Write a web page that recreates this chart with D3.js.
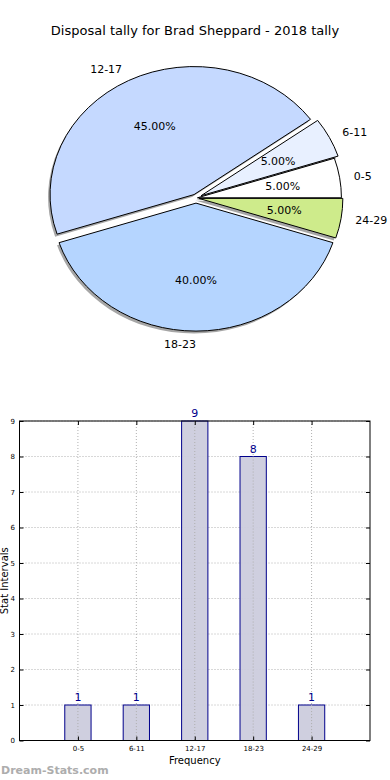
<!DOCTYPE html>
<html><head><meta charset="utf-8">
<script src="https://cdn.jsdelivr.net/npm/d3@7"></script>
<style>body{margin:0;background:#fff}svg{display:block;font-family:"DejaVu Sans",sans-serif}</style>
</head><body>
<script>
const title = "Disposal tally for Brad Sheppard - 2018 tally";
const categories = ["0-5","6-11","12-17","18-23","24-29"];
const counts = [1,1,9,8,1];
const pieColors = ["#ffffff","#e8f0ff","#c5d9ff","#b5d5ff","#ceeb8b"];
const explode = [0.01,0.04,0.03,0.04,0.02];
const yTicks = [0,1,2,3,4,5,6,7,8,9];

const W=390,H=780;
const svg=d3.select("body").append("svg").attr("width",W).attr("height",H);
svg.append("rect").attr("width",W).attr("height",H).attr("fill","#fff");

svg.append("text").attr("x",195).attr("y",35).attr("text-anchor","middle")
  .attr("font-size",13).attr("fill","#000").text(title);

// ---- Pie (matplotlib style: start at 3 o'clock, counter-clockwise) ----
const cx=196, cy=198, rx=144, ry=128;
const total=d3.sum(counts);
const pie=d3.pie().sort(null).value(d=>d)
  .startAngle(Math.PI/2).endAngle(Math.PI/2-2*Math.PI);
const arcs=pie(counts);
const arcGen=d3.arc().innerRadius(0).outerRadius(1);
function midMath(a){
  const m=(a.startAngle+a.endAngle)/2;
  return Math.PI/2-m;
}
const pg=svg.append("g");
arcs.forEach((a,i)=>{
  const t=midMath(a), e=explode[i];
  const ox=cx+e*rx*Math.cos(t)-2, oy=cy-e*ry*Math.sin(t)+2.5;
  pg.append("path").attr("d",arcGen({startAngle:Math.min(a.startAngle,a.endAngle),endAngle:Math.max(a.startAngle,a.endAngle)}))
    .attr("transform",`translate(${ox},${oy}) scale(${rx},${ry})`)
    .attr("fill","#000").attr("opacity",0.35);
});
arcs.forEach((a,i)=>{
  const t=midMath(a), e=explode[i];
  const ox=cx+e*rx*Math.cos(t), oy=cy-e*ry*Math.sin(t);
  pg.append("path").attr("d",arcGen({startAngle:Math.min(a.startAngle,a.endAngle),endAngle:Math.max(a.startAngle,a.endAngle)}))
    .attr("transform",`translate(${ox},${oy}) scale(${rx},${ry})`)
    .attr("fill",pieColors[i]).attr("stroke","#000").attr("stroke-width",1)
    .attr("vector-effect","non-scaling-stroke");
  const c=Math.cos(t), s=Math.sin(t);
  const lx=ox+1.1*rx*c, ly=oy-1.1*ry*s;
  pg.append("text").attr("x",lx).attr("y",ly).attr("dy","0.35em")
    .attr("text-anchor",c<0?"end":"start").attr("font-size",11).attr("fill","#000")
    .text(categories[i]);
  const px=ox+0.6*rx*c, py=oy-0.6*ry*s;
  pg.append("text").attr("x",px).attr("y",py).attr("dy","0.35em")
    .attr("text-anchor","middle").attr("font-size",11).attr("fill","#000")
    .text((counts[i]/total*100).toFixed(2)+"%");
});

// ---- Bar chart ----
const L=19.5,R=370,T=421,B=740.5;
const x=d3.scaleLinear().domain([-1,5]).range([L,R]);
const y=d3.scaleLinear().domain([0,9]).range([B,T]);
const bg=svg.append("g");
const gridC="#b0b0b0";
yTicks.forEach(v=>{
  bg.append("line").attr("x1",L).attr("x2",R).attr("y1",y(v)).attr("y2",y(v))
   .attr("stroke",gridC).attr("stroke-width",1).attr("stroke-dasharray","1,2");
});
categories.forEach((c,i)=>{
  bg.append("line").attr("x1",x(i)).attr("x2",x(i)).attr("y1",T).attr("y2",B)
   .attr("stroke",gridC).attr("stroke-width",1).attr("stroke-dasharray","1,2");
});
const bw=0.45;
categories.forEach((c,i)=>{
  bg.append("rect").attr("x",x(i-bw/2)).attr("width",x(i+bw/2)-x(i-bw/2))
    .attr("y",y(counts[i])).attr("height",y(0)-y(counts[i]))
    .attr("fill","#ccccdd").attr("fill-opacity",0.95).attr("stroke","#00008b").attr("stroke-width",1);
  bg.append("text").attr("x",x(i)).attr("y",y(counts[i])-4).attr("text-anchor","middle")
    .attr("font-size",11).attr("fill","#00008b").text(counts[i]);
});
categories.forEach((c,i)=>{
  bg.append("line").attr("x1",x(i)).attr("x2",x(i)).attr("y1",y(counts[i])).attr("y2",B)
   .attr("stroke",gridC).attr("stroke-width",1).attr("stroke-dasharray","1,2");
});
bg.append("rect").attr("x",L).attr("y",T).attr("width",R-L).attr("height",B-T)
  .attr("fill","none").attr("stroke","#000").attr("stroke-width",1);
const yAxis=d3.axisLeft(y).tickValues(yTicks).tickSize(-4).tickPadding(4.5);
const ya=bg.append("g").attr("transform",`translate(${L},0)`).call(yAxis);
ya.select(".domain").remove();
ya.selectAll("text").attr("font-size",7).attr("fill","#000").attr("font-family","DejaVu Sans");
const yAxisR=d3.axisRight(y).tickValues(yTicks).tickSize(-4).tickFormat("");
const yr=bg.append("g").attr("transform",`translate(${R},0)`).call(yAxisR);
yr.select(".domain").remove();
const xAxis=d3.axisBottom(x).tickValues(d3.range(categories.length)).tickFormat(i=>categories[i]).tickSize(-4).tickPadding(6);
const xa=bg.append("g").attr("transform",`translate(0,${B})`).call(xAxis);
xa.select(".domain").remove();
xa.selectAll("text").attr("font-size",7).attr("fill","#000").attr("font-family","DejaVu Sans");
const xAxisT=d3.axisTop(x).tickValues(d3.range(categories.length)).tickSize(-4).tickFormat("");
const xt=bg.append("g").attr("transform",`translate(0,${T})`).call(xAxisT);
xt.select(".domain").remove();

svg.append("text").attr("x",(L+R)/2).attr("y",764).attr("text-anchor","middle")
  .attr("font-size",10).attr("fill","#000").text("Frequency");
svg.append("text").attr("transform",`translate(8,${(T+B)/2}) rotate(-90)`)
  .attr("text-anchor","middle").attr("font-size",10).attr("fill","#000").text("Stat Intervals");
svg.append("text").attr("x",1).attr("y",774).attr("font-size",11).attr("font-weight","bold")
  .attr("fill","#999").attr("opacity",0.8).text("Dream-Stats.com");
</script>
</body></html>
